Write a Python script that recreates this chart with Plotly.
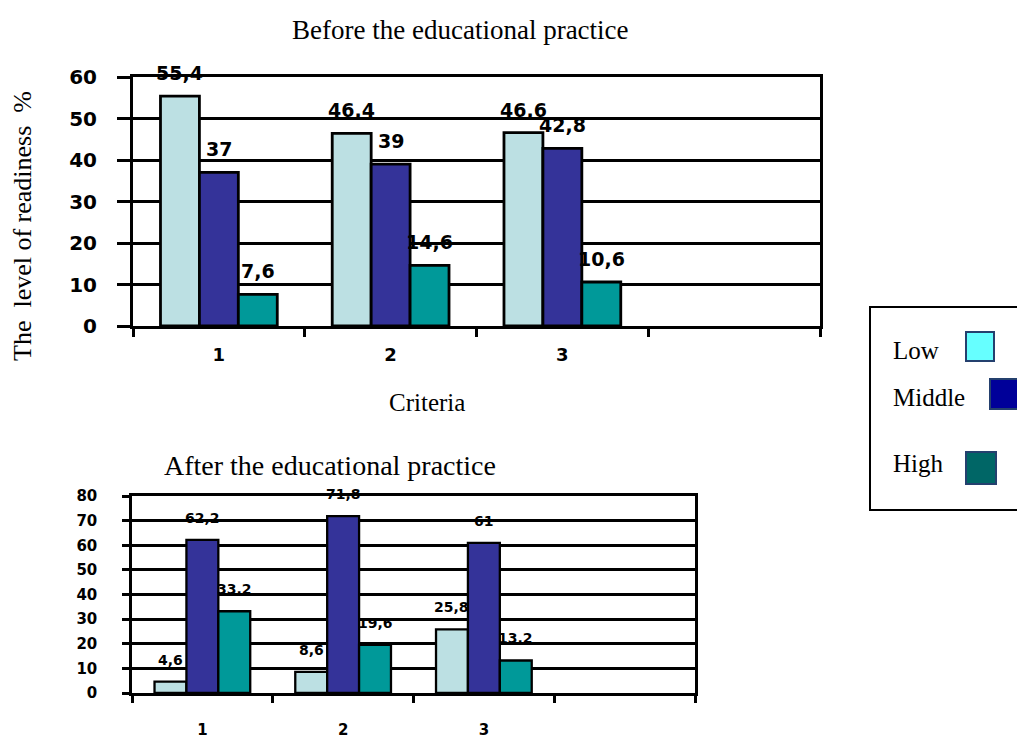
import plotly.graph_objects as go

# ---------------- data ----------------
criteria = [1, 2, 3]
criteria_labels = ["1", "2", "3"]
series_names = ["Low", "Middle", "High"]

before_low = [55.4, 46.4, 46.6]
before_middle = [37, 39, 42.8]
before_high = [7.6, 14.6, 10.6]

after_low = [4.6, 8.6, 25.8]
after_middle = [62.2, 71.8, 61]
after_high = [33.2, 19.6, 13.2]

bar_colors = ["#BCE0E3", "#343399", "#009999"]
legend_colors = ["#66FFFF", "#000099", "#006666"]

W, H = 1017, 738
BARGAP = 0.32
SERIF = "Liberation Serif, Times New Roman, serif"
SANS = "DejaVu Sans, Arial Black, Arial, sans-serif"


def fmt(v):
    return f"{v:g}".replace(".", ",")


fig = go.Figure()

panels = [
    ("x", "y", [before_low, before_middle, before_high], 2.8, 19, 23),
    ("x2", "y2", [after_low, after_middle, after_high], 2.3, 14, 22),
]

annotations = []
bw = (1 - BARGAP) / 3
for xa, ya, series, lw, fsize, shift in panels:
    for i, (name, vals) in enumerate(zip(series_names, series)):
        fig.add_trace(go.Bar(
            x=criteria, y=vals, name=name, xaxis=xa, yaxis=ya,
            marker=dict(color=bar_colors[i], line=dict(color="black", width=lw)),
            showlegend=False, hoverinfo="x+y+name",
        ))
        for c, v in zip(criteria, vals):
            annotations.append(dict(
                x=c + (i - 1) * bw, y=v, xref=xa, yref=ya, text=fmt(v),
                showarrow=False, yshift=shift, xanchor="center", yanchor="middle",
                font=dict(family=SANS, size=fsize, color="black", weight="bold"),
            ))

# titles and axis titles
annotations += [
    dict(x=460 / W, y=1 - 30 / H, xref="paper", yref="paper",
         text="Before the educational practice", showarrow=False,
         xanchor="center", yanchor="middle",
         font=dict(family=SERIF, size=27, color="black")),
    dict(x=330 / W, y=1 - 465 / H, xref="paper", yref="paper",
         text="After the educational practice", showarrow=False,
         xanchor="center", yanchor="middle",
         font=dict(family=SERIF, size=28, color="black")),
    dict(x=427 / W, y=1 - 402 / H, xref="paper", yref="paper",
         text="Criteria", showarrow=False,
         xanchor="center", yanchor="middle",
         font=dict(family=SERIF, size=25, color="black")),
    dict(x=22 / W, y=1 - 226 / H, xref="paper", yref="paper",
         text="The  level of readiness  %", showarrow=False, textangle=-90,
         xanchor="center", yanchor="middle",
         font=dict(family=SERIF, size=26, color="black")),
]

# custom legend (text left, swatch right)
legend_text_y = [350, 397, 463]
for name, ty in zip(series_names, legend_text_y):
    annotations.append(dict(
        x=891 / W, y=1 - ty / H, xref="paper", yref="paper", text=name,
        showarrow=False, xanchor="left", yanchor="middle",
        font=dict(family=SERIF, size=25, color="black")))

swatches = [(966, 994, 332, 361), (990, 1026, 379, 409), (966, 996, 452, 484)]
shapes = [dict(type="rect", xref="paper", yref="paper",
               x0=870 / W, x1=1030 / W, y0=1 - 510 / H, y1=1 - 307 / H,
               line=dict(color="black", width=2), fillcolor="rgba(0,0,0,0)")]
for col, (x0, x1, y0, y1) in zip(legend_colors, swatches):
    shapes.append(dict(type="rect", xref="paper", yref="paper",
                       x0=x0 / W, x1=x1 / W, y0=1 - y1 / H, y1=1 - y0 / H,
                       line=dict(color="#24406E", width=2), fillcolor=col))

common_x = dict(
    range=[0.5, 4.5], tickmode="array", tickvals=criteria, ticktext=criteria_labels,
    ticks="", showgrid=False, zeroline=False, showline=True, mirror=True,
    linecolor="black", fixedrange=True, automargin=False,
)
common_y = dict(
    tickmode="linear", tick0=0, dtick=10, ticks="outside", tickcolor="black",
    showgrid=True, gridcolor="black", zeroline=False, showline=True,
    linecolor="black", mirror=True, automargin=False,
)

fig.update_layout(
    width=W, height=H,
    margin=dict(l=0, r=0, t=0, b=0, autoexpand=False),
    paper_bgcolor="white", plot_bgcolor="white",
    barmode="group", bargap=BARGAP, bargroupgap=0,
    showlegend=False,
    xaxis=dict(**common_x, domain=[133 / W, 820 / W], anchor="y", linewidth=3,
               tickfont=dict(family=SANS, size=18, color="black", weight="bold"),
               ticklabelstandoff=10,
               minor=dict(tickmode="array", tickvals=[0.5, 1.5, 2.5, 3.5, 4.5],
                          ticks="outside", ticklen=8, tickwidth=3, tickcolor="black",
                          showgrid=False)),
    yaxis=dict(**common_y, domain=[1 - 326 / H, 1 - 77 / H], range=[0, 60],
               anchor="x", linewidth=3, gridwidth=3, ticklen=13, tickwidth=3,
               ticklabelstandoff=16,
               tickfont=dict(family=SANS, size=20, color="black", weight="bold")),
    xaxis2=dict(**common_x, domain=[132 / W, 695 / W], anchor="y2", linewidth=2.5,
                tickfont=dict(family=SANS, size=15, color="black", weight="bold"),
                ticklabelstandoff=21,
                minor=dict(tickmode="array", tickvals=[0.5, 1.5, 2.5, 3.5, 4.5],
                           ticks="outside", ticklen=7, tickwidth=2.5, tickcolor="black",
                           showgrid=False)),
    yaxis2=dict(**common_y, domain=[1 - 693 / H, 1 - 496 / H], range=[0, 80],
                anchor="x2", linewidth=2.5, gridwidth=2.5, ticklen=7, tickwidth=2.5,
                ticklabelstandoff=22,
                tickfont=dict(family=SANS, size=15, color="black", weight="bold")),
    annotations=annotations,
    shapes=shapes,
)

fig.write_html("out.html")
